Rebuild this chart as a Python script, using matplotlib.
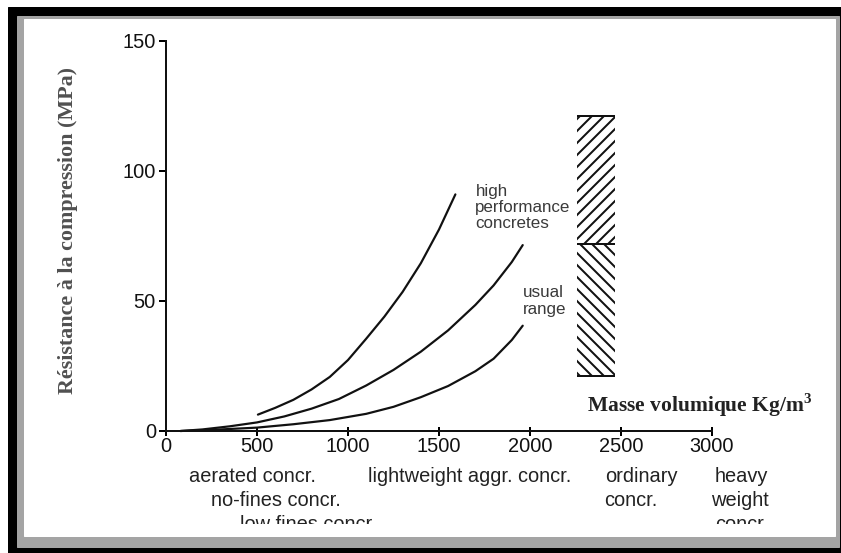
import matplotlib
matplotlib.use('Agg')
import matplotlib.pyplot as plt
from matplotlib.patches import Rectangle
from matplotlib.transforms import Bbox

W, H = 841, 553
DPI = 72
plt.rcParams['hatch.linewidth'] = 2.0

# strength curves (density kg/m3, strength MPa)
hpc_x = [505, 600, 700, 800, 900, 1000, 1100, 1200, 1300, 1400, 1500, 1590]
hpc_y = [6.3, 8.9, 12.0, 16.0, 20.8, 27.3, 35.5, 44.0, 53.5, 64.5, 77.5, 91.0]

mid_x = [80, 200, 350, 500, 650, 800, 950, 1100, 1250, 1400, 1550, 1700, 1800, 1900, 1960]
mid_y = [0.0, 0.6, 1.8, 3.3, 5.6, 8.6, 12.3, 17.5, 23.5, 30.5, 38.7, 48.5, 56.0, 65.0, 71.5]

low_x = [80, 300, 500, 700, 900, 1100, 1250, 1400, 1550, 1700, 1800, 1900, 1960]
low_y = [0.0, 0.6, 1.3, 2.6, 4.2, 6.6, 9.3, 13.0, 17.3, 23.0, 27.8, 35.0, 40.5]

# hatched "ordinary concrete" band
band_x = [2260, 2465]
band_low, band_mid, band_high = 21, 72, 121

x_ticks = [0, 500, 1000, 1500, 2000, 2500, 3000]
y_ticks = [0, 50, 100, 150]

# category names under the axis: (text, centre x px, row)
categories = [
    ('aerated concr.', 252, 0),
    ('no-fines concr.', 276, 1),
    ('low fines concr.', 308, 2),
    ('lightweight aggr. concr.', 470, 0),
    ('ordinary', 641, 0),
    ('concr.', 631, 1),
    ('heavy', 741, 0),
    ('weight', 740, 1),
    ('concr.', 742, 2),
]


def fx(x):
    return x / W


def fy(y):
    return 1 - y / H


fig = plt.figure(figsize=(W / DPI, H / DPI), dpi=DPI)
fig.patch.set_facecolor('white')

# screenshot frame
fig.add_artist(Rectangle((fx(8), fy(553)), (841 - 8) / W, (553 - 7) / H,
                         transform=fig.transFigure, color='black', zorder=-10))
fig.add_artist(Rectangle((fx(17), fy(547)), (839 - 17) / W, (547 - 16) / H,
                         transform=fig.transFigure, color='#a4a4a4', zorder=-9))
fig.add_artist(Rectangle((fx(24), fy(536)), (835 - 24) / W, (536 - 19) / H,
                         transform=fig.transFigure, color='white', zorder=-8))

ax = fig.add_axes([fx(166), fy(431), (712 - 166) / W, (431 - 41) / H])
ax.set_facecolor('none')
ax.set_xlim(0, 3000)
ax.set_ylim(0, 150)

for s in ['top', 'right']:
    ax.spines[s].set_visible(False)
for s in ['left', 'bottom']:
    ax.spines[s].set_linewidth(2)
    ax.spines[s].set_color('#111111')
    ax.spines[s].set_clip_on(False)

ax.set_xticks(x_ticks)
ax.set_yticks(y_ticks)
tick_font = {'family': ['Liberation Sans'], 'size': 20}
ax.set_xticklabels([str(v) for v in x_ticks], fontdict=tick_font, color='#111111')
ax.set_yticklabels([str(v) for v in y_ticks], fontdict=tick_font, color='#111111')
ax.tick_params(axis='x', direction='inout', length=9, width=2, pad=1)
ax.tick_params(axis='y', direction='out', length=7, width=2, pad=3)

for xs, ys in [(hpc_x, hpc_y), (mid_x, mid_y), (low_x, low_y)]:
    ax.plot(xs, ys, color='#111111', lw=2.2, solid_capstyle='round', clip_on=False)

ax.fill_between(band_x, band_mid, band_high, facecolor='none', edgecolor='#111111',
                hatch='//', linewidth=0)
ax.fill_between(band_x, band_low, band_mid, facecolor='none', edgecolor='#111111',
                hatch='\\\\', linewidth=0)
ax.hlines([band_low, band_mid, band_high], band_x[0], band_x[1], color='#111111', lw=2)

label_font = ['Liberation Sans', 'DejaVu Sans']
ax.text(1700, 95, 'high\nperformance\nconcretes', fontsize=17, family=label_font,
        color='#3a3a3a', va='top', ha='left', linespacing=1.1)
ax.text(1960, 56, 'usual\nrange', fontsize=17, family=label_font,
        color='#3a3a3a', va='top', ha='left', linespacing=1.1)

fig.text(fx(700), fy(405), 'Masse volumique Kg/m$^\\mathregular{3}$', fontsize=21.5,
         family=['Liberation Serif'], weight='bold', color='#222222',
         ha='center', va='center')
fig.text(fx(68), fy(230), 'Résistance à la compression (MPa)', fontsize=22,
         family=['Liberation Serif'], weight='bold', color='#505050',
         rotation=90, ha='center', va='center')

clip = Bbox.from_extents(0, H - 524, W, H)
for name, cx, row in categories:
    t = fig.text(fx(cx), fy(476 + 24 * row), name, fontsize=20, family=label_font,
                 color='#222222', ha='center', va='center')
    t.set_clip_box(clip)
    t.set_clip_on(True)

fig.savefig('out.png', dpi=DPI)
